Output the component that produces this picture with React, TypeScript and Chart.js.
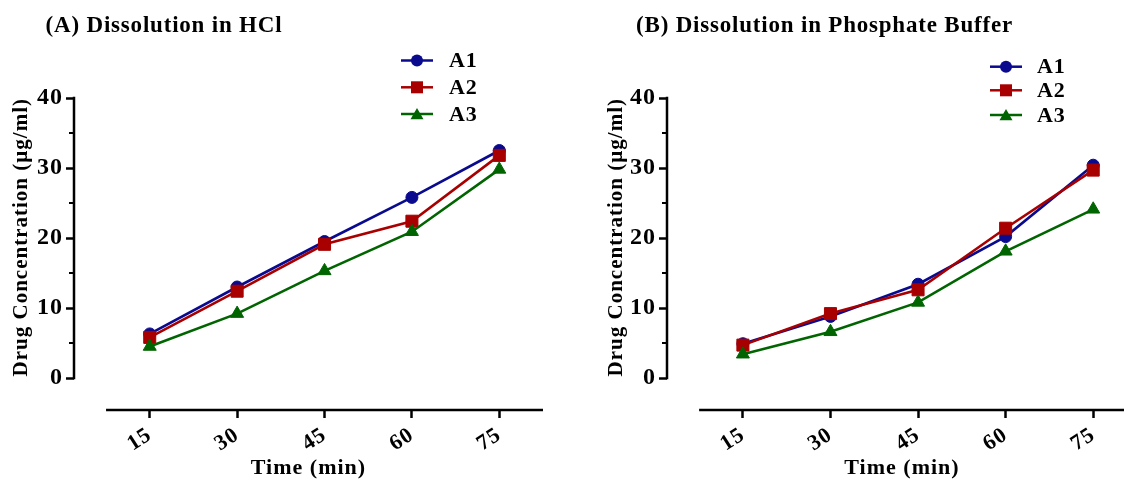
import React, { useEffect, useRef } from 'react';
import { Chart, registerables } from 'chart.js';

Chart.register(...registerables);

// ---------- data ----------
const timePoints = [15, 30, 45, 60, 75];
const xTickValues = [15, 30, 45, 60, 75];
const yTickValues = [0, 10, 20, 30, 40];
const yMinorTickValues = [5, 15, 25, 35];
const seriesLabels = ['A1', 'A2', 'A3'];

const hclA1 = [6.3, 13.0, 19.5, 25.8, 32.5];
const hclA2 = [5.8, 12.4, 19.1, 22.4, 31.8];
const hclA3 = [4.5, 9.2, 15.3, 20.9, 29.8];

const phosphateA1 = [4.9, 8.8, 13.4, 20.2, 30.4];
const phosphateA2 = [4.7, 9.2, 12.6, 21.4, 29.7];
const phosphateA3 = [3.4, 6.6, 10.8, 18.1, 24.1];

const panelATitle = '(A) Dissolution in HCl';
const panelBTitle = '(B) Dissolution in Phosphate Buffer';
const xAxisTitle = 'Time (min)';
const yAxisTitle = 'Drug Concentration (µg/ml)';

// ---------- styles ----------
const FONT = "'Liberation Serif', 'Times New Roman', serif";
const seriesColors = ['#0A0A8F', '#A80000', '#006400'];
const seriesPointStyles = ['circle', 'rect', 'triangle'];
const seriesPointRadius = [6, 8.5, 7.5];

const Y_MIN = -4.57;
const Y_MAX = 40;
const X_MIN = 2;
const X_MAX = 82.5;
const X_LINE_START = 7.5;
const CANVAS_H = 483;

function drawMarker(ctx, style, x, y, r, color) {
  ctx.fillStyle = color;
  ctx.beginPath();
  if (style === 'circle') {
    ctx.arc(x, y, r, 0, Math.PI * 2);
  } else if (style === 'rect') {
    const s = r * Math.SQRT1_2;
    ctx.rect(x - s, y - s, 2 * s, 2 * s);
  } else {
    const a = (2 * Math.PI) / 3;
    ctx.moveTo(x, y - r);
    ctx.lineTo(x + Math.sin(a) * r, y - Math.cos(a) * r);
    ctx.lineTo(x - Math.sin(a) * r, y - Math.cos(a) * r);
    ctx.closePath();
  }
  ctx.fill();
}

const panels = [
  {
    key: 'A',
    left: 0,
    width: 580,
    yAxisWidth: 74,
    padRight: 37,
    yTitlePad: 9,
    title: panelATitle,
    titleX: 164,
    titleY: 26,
    legendLine: [401, 433],
    legendTextX: 449,
    legendRows: [60.5, 87.3, 114],
    values: [hclA1, hclA2, hclA3],
  },
  {
    key: 'B',
    left: 580,
    width: 580,
    yAxisWidth: 87,
    padRight: 23,
    yTitlePad: 24,
    title: panelBTitle,
    titleX: 244.5,
    titleY: 26,
    legendLine: [410, 442],
    legendTextX: 457,
    legendRows: [66.7, 90.3, 115],
    values: [phosphateA1, phosphateA2, phosphateA3],
  },
];

function Panel({ cfg }) {
  const ref = useRef(null);

  useEffect(() => {
    const spacing = {
      id: 'spacing',
      beforeLayout(chart) {
        chart.ctx.letterSpacing = '1px';
      },
      beforeDraw(chart) {
        chart.ctx.letterSpacing = '1px';
      },
    };

    const decor = {
      id: 'decor',
      afterDraw(chart) {
        const { ctx, chartArea } = chart;
        const xs = chart.scales.x;
        const ys = chart.scales.y;
        ctx.save();
        ctx.strokeStyle = '#000';
        ctx.lineWidth = 2.5;
        // y axis line (0..40)
        const ax = chartArea.left;
        ctx.beginPath();
        ctx.moveTo(ax, ys.getPixelForValue(0) + 1.25);
        ctx.lineTo(ax, ys.getPixelForValue(Y_MAX) - 1.25);
        ctx.stroke();
        // minor y ticks
        ctx.lineWidth = 2;
        ctx.beginPath();
        yMinorTickValues.forEach((v) => {
          const py = ys.getPixelForValue(v);
          ctx.moveTo(ax - 5, py);
          ctx.lineTo(ax, py);
        });
        ctx.stroke();
        // x axis line
        ctx.lineWidth = 2.5;
        const by = chartArea.bottom;
        ctx.beginPath();
        ctx.moveTo(xs.getPixelForValue(X_LINE_START), by);
        ctx.lineTo(xs.getPixelForValue(X_MAX), by);
        ctx.stroke();

        // title
        ctx.fillStyle = '#000';
        ctx.font = `bold 23px ${FONT}`;
        ctx.letterSpacing = '0.8px';
        ctx.textAlign = 'center';
        ctx.textBaseline = 'middle';
        ctx.fillText(cfg.title, cfg.titleX, cfg.titleY);

        // legend
        ctx.letterSpacing = '0.8px';
        ctx.font = `bold 22px ${FONT}`;
        ctx.textAlign = 'left';
        chart.data.datasets.forEach((ds, i) => {
          const ry = cfg.legendRows[i];
          ctx.strokeStyle = ds.borderColor;
          ctx.lineWidth = 2.5;
          ctx.beginPath();
          ctx.moveTo(cfg.legendLine[0], ry);
          ctx.lineTo(cfg.legendLine[1], ry);
          ctx.stroke();
          const mx = (cfg.legendLine[0] + cfg.legendLine[1]) / 2;
          const style = ds.pointStyle;
          drawMarker(
            ctx,
            style,
            mx,
            style === 'triangle' ? ry + 1.5 : ry,
            style === 'circle' ? 6 : style === 'rect' ? 8.5 : 7.5,
            ds.borderColor
          );
          ctx.fillStyle = '#000';
          ctx.fillText(ds.label, cfg.legendTextX, ry + 1);
        });
        ctx.restore();
      },
    };

    const chart = new Chart(ref.current, {
      type: 'line',
      data: {
        datasets: seriesLabels.map((label, i) => ({
          label,
          data: timePoints.map((t, j) => ({ x: t, y: cfg.values[i][j] })),
          borderColor: seriesColors[i],
          backgroundColor: seriesColors[i],
          pointBackgroundColor: seriesColors[i],
          pointBorderColor: seriesColors[i],
          pointBorderWidth: 1,
          pointStyle: seriesPointStyles[i],
          pointRadius: seriesPointRadius[i],
          borderWidth: 2.6,
          tension: 0,
          fill: false,
          order: 3 - i,
        })),
      },
      options: {
        responsive: false,
        animation: false,
        events: [],
        layout: { padding: { left: 0, right: cfg.padRight, top: 98, bottom: 0 } },
        plugins: {
          legend: { display: false },
          title: { display: false },
          tooltip: { enabled: false },
        },
        scales: {
          x: {
            type: 'linear',
            min: X_MIN,
            max: X_MAX,
            afterBuildTicks: (s) => {
              s.ticks = xTickValues.map((v) => ({ value: v }));
            },
            afterFit: (s) => {
              s.height = CANVAS_H - 410;
            },
            border: { display: false },
            grid: {
              drawOnChartArea: false,
              drawTicks: true,
              tickLength: 8,
              tickWidth: 2.5,
              tickColor: '#000',
              color: '#000',
            },
            ticks: {
              minRotation: 33,
              maxRotation: 33,
              padding: 4,
              color: '#000',
              font: { family: FONT, size: 22, weight: 'bold' },
              callback: (v) => String(v),
            },
            title: {
              display: true,
              text: xAxisTitle,
              color: '#000',
              font: { family: FONT, size: 22, weight: 'bold' },
              padding: { top: 0, bottom: 1 },
            },
          },
          y: {
            type: 'linear',
            min: Y_MIN,
            max: Y_MAX,
            afterBuildTicks: (s) => {
              s.ticks = yTickValues.map((v) => ({ value: v }));
            },
            afterFit: (s) => {
              s.width = cfg.yAxisWidth;
            },
            border: { display: false },
            grid: {
              drawOnChartArea: false,
              drawTicks: true,
              tickLength: 8,
              tickWidth: 2.5,
              tickColor: '#000',
              color: '#000',
            },
            ticks: {
              padding: 3,
              color: '#000',
              font: { family: FONT, size: 24, weight: 'bold' },
              callback: (v) => String(v),
            },
            title: {
              display: true,
              text: yAxisTitle,
              align: 'end',
              color: '#000',
              font: { family: FONT, size: 21, weight: 'bold' },
              padding: { top: cfg.yTitlePad, bottom: 0 },
            },
          },
        },
      },
      plugins: [spacing, decor],
    });
    return () => chart.destroy();
  }, []);

  return (
    <canvas
      ref={ref}
      width={cfg.width}
      height={CANVAS_H}
      style={{ position: 'absolute', left: cfg.left, top: 0, width: cfg.width, height: CANVAS_H }}
    />
  );
}

export default function App() {
  return (
    <div
      style={{
        position: 'absolute',
        left: 0,
        top: 0,
        width: 1124,
        height: CANVAS_H,
        overflow: 'hidden',
        background: '#fff',
      }}
    >
      {panels.map((p) => (
        <Panel key={p.key} cfg={p} />
      ))}
    </div>
  );
}
